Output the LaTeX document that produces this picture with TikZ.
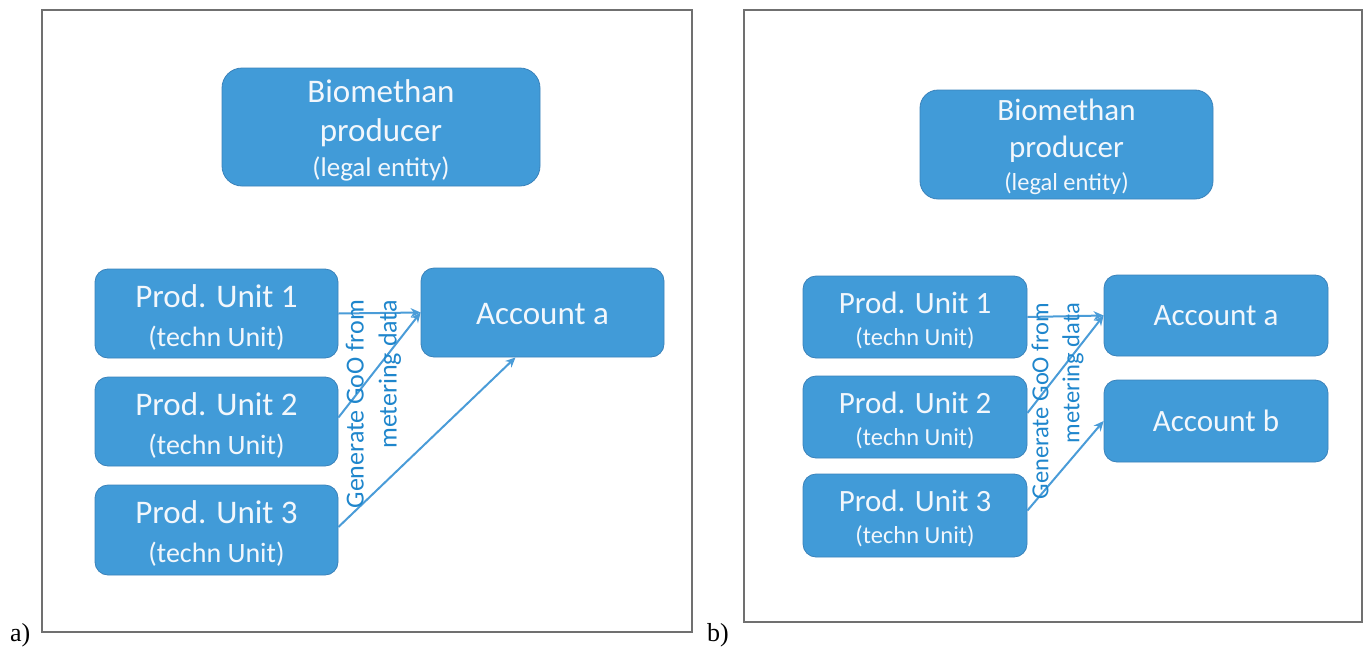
\documentclass[tikz,border=0pt]{standalone}
\usepackage{fontspec}
\setmainfont{Carlito}
\newfontfamily\labelfont{Liberation Serif}
\usetikzlibrary{arrows.meta}
\definecolor{boxfill}{HTML}{419BD8}
\definecolor{boxline}{HTML}{3A82BA}
\definecolor{boxtext}{HTML}{F2F7FC}
\definecolor{flowcol}{HTML}{4A9CD8}
\definecolor{notecol}{HTML}{1F86CC}
\definecolor{framecol}{HTML}{707070}
\tikzset{
  box/.style={draw=boxline, line width=0.8pt, fill=boxfill, rounded corners=13pt,
    text=boxtext, align=center, inner sep=0pt},
  boxA/.style={box, font=\fontsize{33}{39}\selectfont},
  boxB/.style={box, font=\fontsize{31}{32}\selectfont},
  flow/.style={draw=flowcol, line width=2pt, -{Stealth[length=10pt,width=9pt]}},
  note/.style={text=notecol, rotate=90, align=right, inner sep=0pt, anchor=east},
  panel/.style={draw=framecol, line width=2.5pt},
  tag/.style={font=\labelfont\fontsize{26}{30}\selectfont, anchor=base west, inner sep=0pt}
}
% invisible strut that sets the height of a box's first text line
\newcommand{\headroom}[1]{\rule{0pt}{#1pt}}
\newcommand{\smallA}{\fontsize{28}{39}\selectfont}
\newcommand{\smallB}{\fontsize{24.5}{32}\selectfont}
\begin{document}
\begin{tikzpicture}[x=1pt, y=-1pt]
\useasboundingbox (0,0) rectangle (1364,648);

% panel frames and labels
\draw[panel] (42,10) rectangle (692,632);
\draw[panel] (744,10) rectangle (1362,622);
\node[tag] (taga) at (10,641) {a)};
\node[tag] (tagb) at (707,641) {b)};

% ---- a) one account ----
\node[boxA, font=\fontsize{33}{39}\selectfont, rounded corners=20pt,
      minimum width=318, minimum height=118] (bioA) at (381,127)
  {\headroom{29}Biomethan\\producer\\[-4pt]\fontsize{27}{39}\selectfont (legal entity)};
\node[boxA, minimum width=243, minimum height=89] (pa1) at (216.5,313.5)
  {\headroom{30}Prod. Unit 1\\\smallA (techn Unit)};
\node[boxA, minimum width=243, minimum height=89] (pa2) at (216.5,421.5)
  {\headroom{30}Prod. Unit 2\\\smallA (techn Unit)};
\node[boxA, minimum width=243, minimum height=90] (pa3) at (216.5,530)
  {\headroom{30}Prod. Unit 3\\\smallA (techn Unit)};
\node[boxA, minimum width=243, minimum height=89] (acca) at (542.5,312.5)
  {\headroom{25}Account a};

\draw[flow] (pa1.east) -- (acca.west);
\draw[flow] ([yshift=4pt]pa2.east) -- (acca.west);
\draw[flow] ([yshift=3pt]pa3.east) -- ([xshift=-27pt]acca.south);

\node[note, font=\fontsize{26}{33}\selectfont] (goa) at (373.5,300)
  {Generate GoO from\\metering data};

% ---- b) two accounts ----
\node[boxB, font=\fontsize{31}{37}\selectfont, rounded corners=18pt,
      minimum width=293, minimum height=109] (bioB) at (1066.5,144.5)
  {\headroom{26}Biomethan\\producer\\[-4pt]\fontsize{24.5}{37}\selectfont (legal entity)};
\node[boxB, minimum width=224, minimum height=82] (pb1) at (915,317)
  {\headroom{28}Prod. Unit 1\\\smallB (techn Unit)};
\node[boxB, minimum width=224, minimum height=82] (pb2) at (915,417)
  {\headroom{28}Prod. Unit 2\\\smallB (techn Unit)};
\node[boxB, minimum width=224, minimum height=83] (pb3) at (915,515.5)
  {\headroom{28}Prod. Unit 3\\\smallB (techn Unit)};
\node[boxB, minimum width=224, minimum height=81] (accA) at (1216,315.5)
  {Account a};
\node[boxB, minimum width=224, minimum height=82] (accB) at (1216,421)
  {Account b};

\draw[flow] (pb1.east) -- (accA.west);
\draw[flow] ([yshift=4pt]pb2.east) -- (accA.west);
\draw[flow] ([yshift=5pt]pb3.east) -- (accB.west);

\node[note, font=\fontsize{24.5}{31}\selectfont] (gob) at (1057.5,303)
  {Generate GoO from\\metering data};
\end{tikzpicture}
\end{document}
